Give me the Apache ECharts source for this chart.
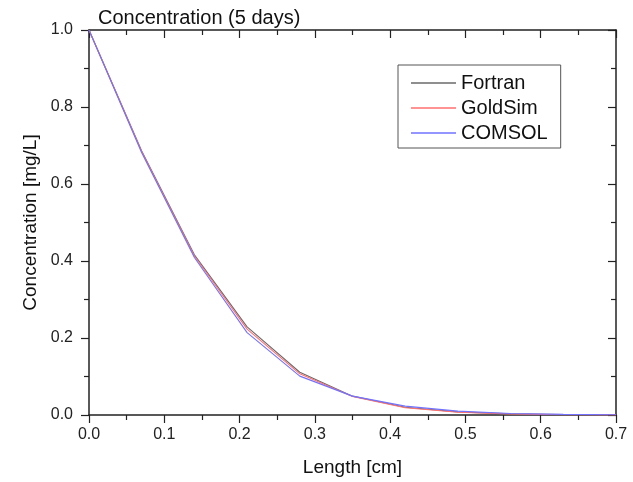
<!DOCTYPE html>
<html>
<head>
<meta charset="utf-8">
<script src="https://cdn.jsdelivr.net/npm/echarts@6/dist/echarts.min.js"></script>
<style>
html,body{margin:0;padding:0;background:#fff;}
#chart{width:633px;height:482px;}
</style>
</head>
<body>
<div id="chart"></div>
<script>
var lengths = [0, 0.07, 0.14, 0.21, 0.28, 0.35, 0.42, 0.49, 0.56, 0.63, 0.70];
var fortran = [1.0, 0.686, 0.416, 0.229, 0.111, 0.049, 0.020, 0.008, 0.003, 0.001, 0.0003];
var goldsim = [1.0, 0.684, 0.413, 0.223, 0.107, 0.048, 0.019, 0.007, 0.0025, 0.0008, 0.0002];
var comsol  = [1.0, 0.681, 0.409, 0.214, 0.101, 0.049, 0.023, 0.010, 0.004, 0.0015, 0.0005];
var seriesNames = ['Fortran', 'GoldSim', 'COMSOL'];
var xTicks = ['0.0','0.1','0.2','0.3','0.4','0.5','0.6','0.7'];
var yTicks = ['0.0','0.2','0.4','0.6','0.8','1.0'];

function pairs(ys){ return lengths.map(function(x,i){ return [x, ys[i]]; }); }

var font = 'Liberation Sans, Arial, sans-serif';
var chart = echarts.init(document.getElementById('chart'), null, {renderer:'canvas'});
var axisLineStyle = {color:'#222', width:1.5};
function xAxis(pos, show){
  return {
    type:'value', position:pos, min:0, max:0.7, interval:0.1,
    axisLine:{show:true, onZero:false, lineStyle:axisLineStyle},
    axisTick:{show:true, inside:!show, length:8, lineStyle:{color:'#222', width:1.2}},
    minorTick:{show:true, splitNumber:2, length:5, lineStyle:{color:'#222', width:1.2}},
    splitLine:{show:false}, minorSplitLine:{show:false},
    axisLabel:{show:show, fontSize:16, color:'#222', fontFamily:font, margin:12,
      formatter:function(v){ return xTicks[Math.round(v*10)]; }},
    name: show ? 'Length [cm]' : '', nameLocation:'middle', nameGap:43,
    nameTextStyle:{fontSize:19, color:'#111', fontFamily:font}
  };
}
function yAxis(pos, show){
  return {
    type:'value', position:pos, min:0, max:1, interval:0.2,
    axisLine:{show:true, onZero:false, lineStyle:axisLineStyle},
    axisTick:{show:true, inside:!show, length:8, lineStyle:{color:'#222', width:1.2}},
    minorTick:{show:true, splitNumber:2, length:5, lineStyle:{color:'#222', width:1.2}},
    splitLine:{show:false}, minorSplitLine:{show:false},
    axisLabel:{show:show, fontSize:16, color:'#222', fontFamily:font, margin:16,
      formatter:function(v){ return yTicks[Math.round(v*5)]; }},
    name: show ? 'Concentration [mg/L]' : '', nameLocation:'middle', nameGap:47,
    nameTextStyle:{fontSize:19, color:'#111', fontFamily:font}
  };
}
function line(name, ys, color){
  return {name:name, type:'line', data:pairs(ys), xAxisIndex:0, yAxisIndex:0,
    symbol:'none', showSymbol:false, smooth:false,
    lineStyle:{color:color, width:1.1}, itemStyle:{color:color}, z:3};
}
chart.setOption({
  animation:false,
  backgroundColor:'#fff',
  title:{text:'Concentration (5 days)', left:93, top:3,
    textStyle:{fontSize:20, fontWeight:'normal', color:'#111', fontFamily:font}},
  grid:{left:89, right:17, top:30, bottom:67, containLabel:false},
  legend:{orient:'vertical', left:398, top:65,
    data:seriesNames, icon:'rect', itemWidth:45, itemHeight:1.5, itemGap:5,
    padding:[8, 13, 5, 13], borderColor:'#555', borderWidth:1,
    textStyle:{fontSize:20, color:'#111', fontFamily:font}},
  xAxis:[xAxis('bottom', true), xAxis('top', false)],
  yAxis:[yAxis('left', true), yAxis('right', false)],
  series:[
    line(seriesNames[0], fortran, '#6a6a6a'),
    line(seriesNames[1], goldsim, '#ff6f6f'),
    line(seriesNames[2], comsol, '#7272ff')
  ]
});
</script>
</body>
</html>
